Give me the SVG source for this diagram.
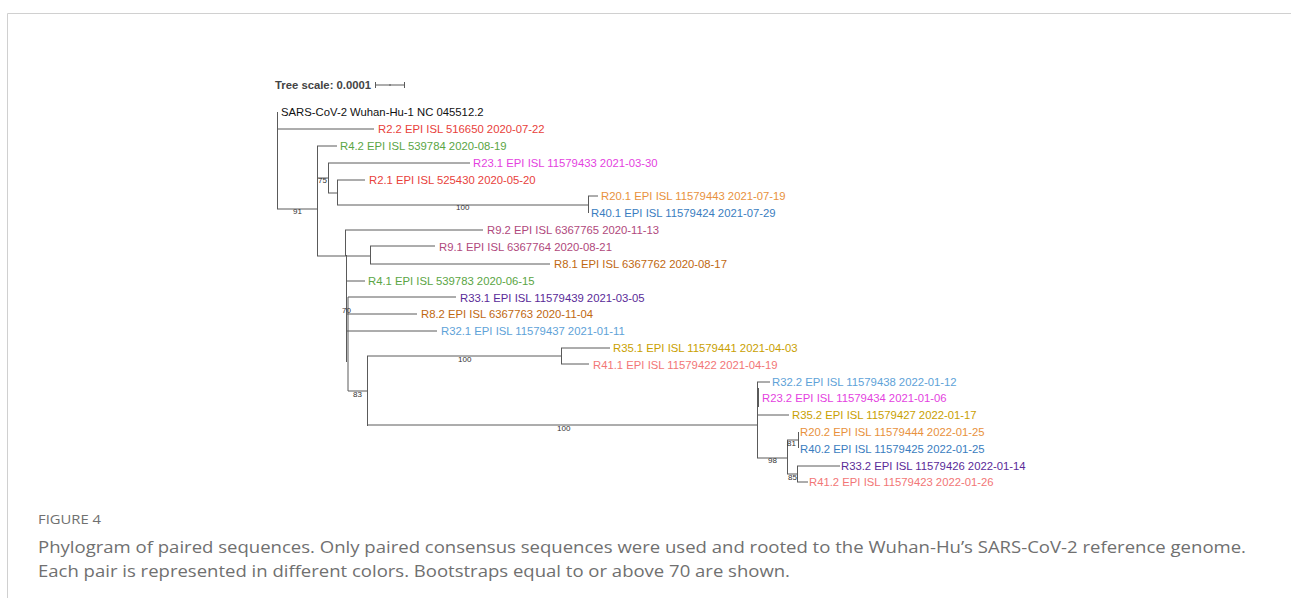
<svg xmlns="http://www.w3.org/2000/svg" width="1291" height="598" viewBox="0 0 1291 598">
<style>
.br{stroke:#5a5a5a;stroke-width:1;fill:none}
.lb{font-family:"Liberation Sans",Arial,sans-serif;font-size:11.3px}
.bs{font-family:"Liberation Sans",Arial,sans-serif;font-size:8px;fill:#333}
.cap{font-family:"Open Sans","Noto Sans",sans-serif;fill:#707070}
</style>
<rect width="1291" height="598" fill="#fff"/>
<path d="M7.5 598V13.5H1291" stroke="#d0d0d0" fill="none"/>
<g id="scale">
<text x="275" y="89" class="lb" font-weight="bold" fill="#444">Tree scale: 0.0001</text>
<path class="br" d="M375 85H405M375.5 82V88M404.5 82V88M390 84V86"/>
</g>
<g id="connectors">
<path class="br" d="M277.5 112V209M277 129H374M277 209H317"/>
<path class="br" d="M317.5 146V256M317 146H337M317 178H328M328.5 163V193M328 163H470M328 193H337M337.5 180V205M337 180H365M337 205H588M588.5 196V213M588 196H598"/>
<path class="br" d="M317 256H370M345.5 230V256M345 230H483M370.5 246V264M370 246H435M370 264H550M346.5 255V362M346 281H365M348 297V391M348 297H456M347 314H417M347 331H437M348 391H367"/>
<path class="br" d="M367.5 356V426M367 356H561M561.5 348V364M561 348H610M561 364H589M367 425H757"/>
<path class="br" d="M757.5 382V458M757 382H770M758.5 388V407M757 415H789M757 458H787M787.5 440V474M787 440H798M798.5 432V448M787 474H797M797.5 466V482M797 466H840M797 482H808"/>
</g>
<g id="bootstraps">
<text class="bs" x="293" y="214">91</text>
<text class="bs" x="318" y="183">75</text>
<text class="bs" x="456" y="210">100</text>
<text class="bs" x="342" y="313">70</text>
<text class="bs" x="353" y="397">83</text>
<text class="bs" x="458" y="362">100</text>
<text class="bs" x="557" y="431">100</text>
<text class="bs" x="768" y="463">98</text>
<text class="bs" x="787" y="446">81</text>
<text class="bs" x="788" y="480">85</text>
</g>
<g id="leaves" class="lb">
<text id="n1" x="281" y="116" fill="#111">SARS-CoV-2 Wuhan-Hu-1 NC 045512.2</text>
<text id="n2" x="378" y="133" fill="#e8413b">R2.2 EPI ISL 516650 2020-07-22</text>
<text id="n3" x="340" y="150" fill="#5aa544">R4.2 EPI ISL 539784 2020-08-19</text>
<text id="n4" x="473" y="167" fill="#e43fe0">R23.1 EPI ISL 11579433 2021-03-30</text>
<text id="n5" x="369" y="184" fill="#e8413b">R2.1 EPI ISL 525430 2020-05-20</text>
<text id="n6" x="601" y="200" fill="#e8913c">R20.1 EPI ISL 11579443 2021-07-19</text>
<text id="n7" x="591" y="217" fill="#3a7dc0">R40.1 EPI ISL 11579424 2021-07-29</text>
<text id="n8" x="487" y="234" fill="#b0487c">R9.2 EPI ISL 6367765 2020-11-13</text>
<text id="n9" x="439" y="251" fill="#b0487c">R9.1 EPI ISL 6367764 2020-08-21</text>
<text id="n10" x="554" y="268" fill="#c0680f">R8.1 EPI ISL 6367762 2020-08-17</text>
<text id="n11" x="368" y="285" fill="#5aa544">R4.1 EPI ISL 539783 2020-06-15</text>
<text id="n12" x="460" y="302" fill="#5a2a98">R33.1 EPI ISL 11579439 2021-03-05</text>
<text id="n13" x="421" y="318" fill="#c0680f">R8.2 EPI ISL 6367763 2020-11-04</text>
<text id="n14" x="441" y="335" fill="#5ea2d8">R32.1 EPI ISL 11579437 2021-01-11</text>
<text id="n15" x="613" y="352" fill="#c9a000">R35.1 EPI ISL 11579441 2021-04-03</text>
<text id="n16" x="593" y="369" fill="#f27676">R41.1 EPI ISL 11579422 2021-04-19</text>
<text id="n17" x="772" y="386" fill="#5ea2d8">R32.2 EPI ISL 11579438 2022-01-12</text>
<text id="n18" x="762" y="402" fill="#e43fe0">R23.2 EPI ISL 11579434 2021-01-06</text>
<text id="n19" x="792" y="419" fill="#c9a000">R35.2 EPI ISL 11579427 2022-01-17</text>
<text id="n20" x="800" y="436" fill="#e8913c">R20.2 EPI ISL 11579444 2022-01-25</text>
<text id="n21" x="800" y="453" fill="#3a7dc0">R40.2 EPI ISL 11579425 2022-01-25</text>
<text id="n22" x="841" y="470" fill="#5a2a98">R33.2 EPI ISL 11579426 2022-01-14</text>
<text id="n23" x="809" y="486" fill="#f27676">R41.2 EPI ISL 11579423 2022-01-26</text>
</g>
<g id="caption">
<text class="cap" x="38" y="524" font-size="13" fill="#555" textLength="63" lengthAdjust="spacingAndGlyphs">FIGURE 4</text>
<text class="cap" x="38" y="553" font-size="17" textLength="1208" lengthAdjust="spacingAndGlyphs">Phylogram of paired sequences. Only paired consensus sequences were used and rooted to the Wuhan-Hu’s SARS-CoV-2 reference genome.</text>
<text class="cap" x="38" y="577" font-size="17" textLength="752" lengthAdjust="spacingAndGlyphs">Each pair is represented in different colors. Bootstraps equal to or above 70 are shown.</text>
</g>
</svg>
